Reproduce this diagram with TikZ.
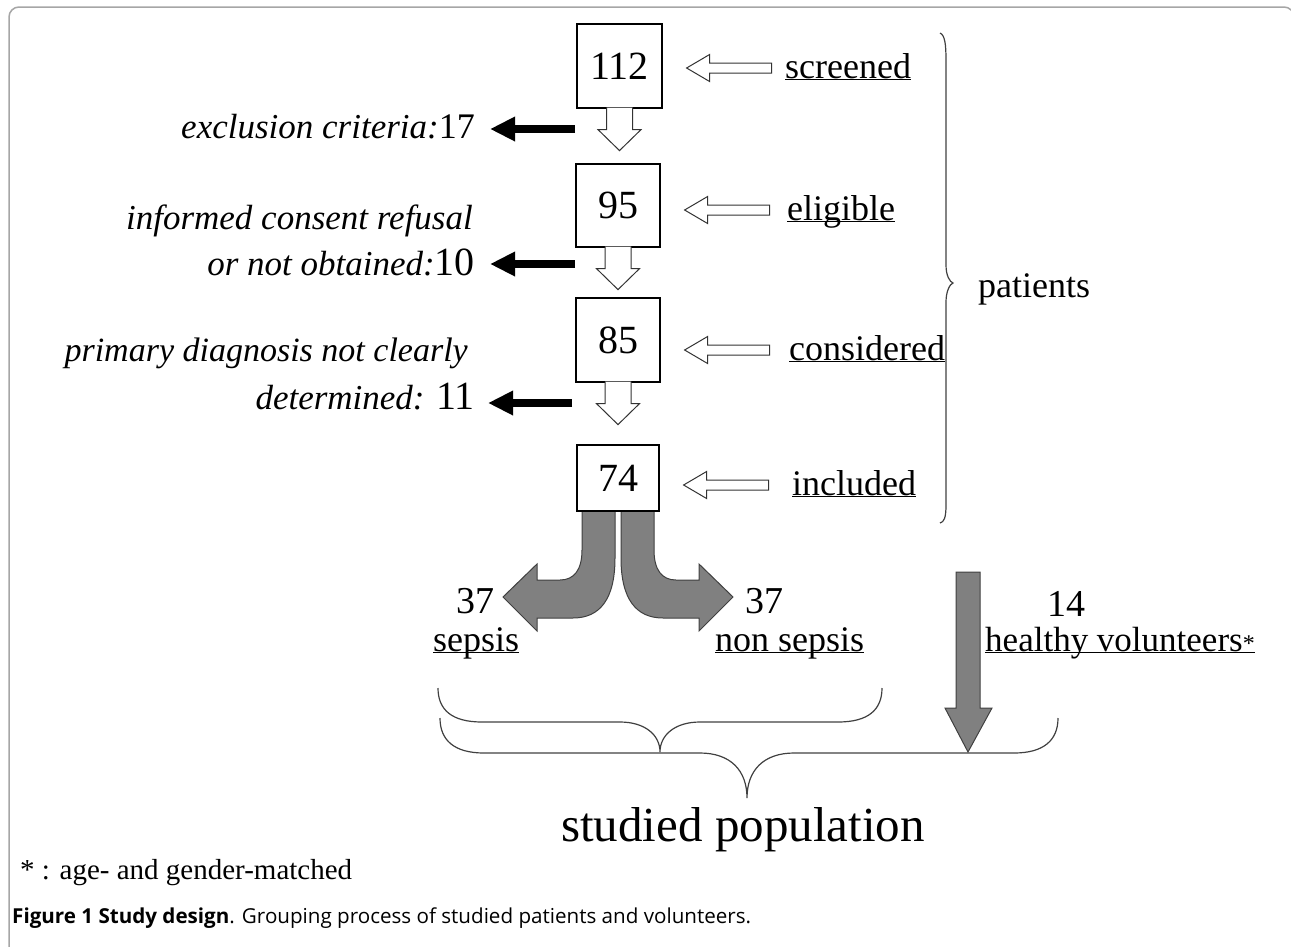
\documentclass[tikz,border=0pt]{standalone}
\usepackage{fontspec}
\setmainfont{Liberation Serif}
\newfontfamily\capfont{Open Sans}
\usetikzlibrary{calc,arrows.meta}
\newcommand{\sz}[1]{\fontsize{#1}{#1}\selectfont}
\newcommand{\ul}[1]{\underline{\smash{#1}}}

\begin{document}
\begin{tikzpicture}[x=1pt,y=-1pt,
    numbox/.style={draw,line width=1.2pt,fill=white,inner sep=0pt,font=\sz{40}},
    tag/.style={anchor=base west,inner sep=0pt,font=\sz{36}},
    why/.style={anchor=base east,inner sep=0pt,font=\sz{35}\itshape},
    hollow/.style={draw=black!80,line width=1pt,fill=white},
    grayarr/.style={draw=black!75,line width=1pt,fill=black!50},
    blackarr/.style={line width=8pt,-{Triangle[length=25pt,width=23pt]}},
    brace/.style={draw=black!75,line width=1.2pt}]
            \useasboundingbox (0,0) rectangle (1291,946);
            \clip (0,0) rectangle (1291,946);
            \draw[gray!70,line width=1.5pt,rounded corners=10pt] (9,960) -- (9,7) -- (1294,7) -- (1294,960);
            % gray block arrows below the last box
            \coordinate (split) at (618,511);
            \foreach \s in {1,-1} {
                \draw[grayarr,shift={(split)},xscale=\s] (-36,0) -- (-3,0) -- (-3,47)
                    .. controls (-3,88) and (-18,107) .. (-45,107) -- (-81,107) -- (-81,120)
                    -- (-115,86) -- (-81,53) -- (-81,69) -- (-58,69)
                    .. controls (-44,69) and (-36,59) .. (-36,39) -- cycle;
            }
            % boxes
            \node[numbox,minimum width=85pt,minimum height=84pt] (n112) at (619.5,66) {112};
            \node[numbox,minimum width=84pt,minimum height=83pt] (n95) at (618,205.5) {95};
            \node[numbox,minimum width=84pt,minimum height=84pt] (n85) at (618,340) {85};
            \node[numbox,minimum width=82pt,minimum height=66pt] (n74) at (618,478) {74};
            \foreach \b in {n112,n95,n85} {
                \draw[hollow] ($(\b.south)+(-13,-1)$) -- ++(0,22) -- ++(-8.5,0) -- ++(21.5,21)
                    -- ++(21.5,-21) -- ++(-8.5,0) -- ++(0,-22);
            }
            % labels on the right
            \node[tag] (screened) at (785,78) {\ul{screened}};
            \node[tag] (eligible) at (787,220) {\ul{eligible}};
            \node[tag] (considered) at (789,360) {\ul{considered}};
            \node[tag] (included) at (792,495) {\ul{included}};
            \foreach \b/\t in {n112/screened,n95/eligible,n85/considered,n74/included} {
                \draw[hollow] ($(\b.east |- \t.base)+(24,-10)$) -- ++(23,-13.5) -- ++(0,8.5) -- ++(62,0)
                    -- ++(0,10) -- ++(-62,0) -- ++(0,8.5) -- cycle;
            }
            \draw[brace] (940,33) .. controls (945,35) and (946,45) .. (946,60) -- (946,265)
                .. controls (946,276) and (950,282) .. (953,283) .. controls (950,284) and (946,291) .. (946,302)
                -- (946,505) .. controls (946,518) and (944,522) .. (940,523);
            \node[tag] (patients) at (978,297) {patients};
            % exclusions on the left
            \node[why] (excl) at (475,138) {exclusion criteria:{\upshape\sz{36}17}};
            \node[why] (refusal) at (473,229) {informed consent refusal};
            \node[why] (notobt) at (475,275) {or not obtained:{\upshape\sz{40}10}};
            \node[why,font=\sz{34}\itshape] (primary) at (468,361) {primary diagnosis not clearly};
            \node[why] (determ) at (475,409) {determined: {\upshape\sz{40}11}};
            \draw[blackarr] ($(excl.base east)+(100,-9)$) -- ($(excl.base east)+(15,-9)$);
            \draw[blackarr] ($(notobt.base east)+(100,-11)$) -- ($(notobt.base east)+(15,-11)$);
            \draw[blackarr] ($(determ.base east)+(97,-6)$) -- ($(determ.base east)+(13,-6)$);
            % groups
            \node[anchor=base east,inner sep=0pt,font=\sz{38}] (sep37) at (495,613) {37};
            \node[tag] (sepsis) at (433,651) {\ul{sepsis}};
            \node[anchor=base west,inner sep=0pt,font=\sz{38}] (non37) at (745,613) {37};
            \node[tag] (nonsepsis) at (715,651) {\ul{non sepsis}};
            \node[anchor=base west,inner sep=0pt,font=\sz{38}] (hv14) at (1047,616) {14};
            \node[tag,font=\sz{35}] (healthy) at (985,651) {\ul{healthy volunteers{\sz{24}*}}};
            \draw[grayarr] (956,572) -- (980,572) -- (980,708) -- (992,708) -- (968,752)
                -- (945,708) -- (956,708) -- cycle;
            \draw[brace] (438,688) .. controls (438,710) and (452,722) .. (482,722) -- (620,722)
                .. controls (645,722) and (660,735) .. (660,752) .. controls (660,735) and (675,722) .. (700,722)
                -- (838,722) .. controls (868,722) and (882,710) .. (882,688);
            \draw[brace] (440,718) .. controls (440,740) and (454,753) .. (484,753) -- (700,753)
                .. controls (730,753) and (747,770) .. (747,798) .. controls (747,770) and (764,753) .. (794,753)
                -- (1014,753) .. controls (1044,753) and (1058,740) .. (1058,718);
            \node[anchor=base,inner sep=0pt,font=\sz{49}] (studied) at (743,841) {studied population};
            \node[anchor=base west,inner sep=0pt,font=\sz{29}] (note) at (20,879) {* : age- and gender-matched};
            \node[anchor=base west,inner sep=0pt,font=\capfont\sz{20.6}] (caption) at (12,923)
                {\textbf{Figure 1 Study design}. Grouping process of studied patients and volunteers.};
\end{tikzpicture}
\end{document}
